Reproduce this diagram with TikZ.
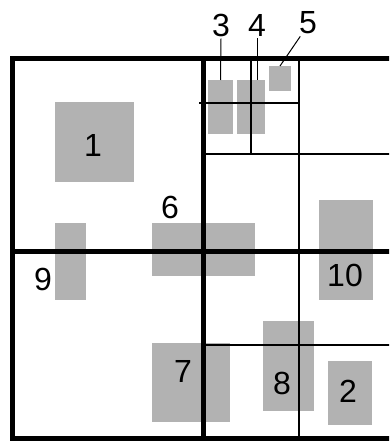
\documentclass[tikz,border=0pt]{standalone}
\usepackage{fontspec}
\setmainfont{Liberation Sans}
\usetikzlibrary{calc,positioning}
\tikzset{
  blk/.style={fill=black!30, inner sep=0pt, outer sep=0pt},
  thickline/.style={line width=5pt},
  thinline/.style={line width=2pt},
  lead/.style={line width=1pt},
  num/.style={font=\fontsize{32}{32}\selectfont, inner sep=2pt}
}
\begin{document}
\begin{tikzpicture}[x=1pt,y=-1pt]
  \useasboundingbox (0,0) rectangle (389,441);
  \clip (0,0) rectangle (389,441);
  % grey blocks
  \foreach \n/\cx/\cy/\w/\h in {1/94.5/142/79/80, 3/220.5/107/25/54, 4/251/107/28/54,
      5/280/78.5/22/25, 6/203.5/249.5/103/53, 9/70.5/261.5/31/77, 10/346/250/54/100,
      7/191/382.5/78/79, 8/288.5/366/51/90, 2/350/393/44/64}{
    \node[blk, minimum width=\w pt, minimum height=\h pt] (r\n) at (\cx,\cy) {};
  }
  % quadtree cells
  \draw[thickline] (12,59) rectangle (393,438);
  \draw[thickline] (12,251) -- (393,251);
  \draw[thickline] (203,59) -- (203,438);
  \draw[thinline] (299,59) -- (299,438);
  \draw[thinline] (203,154) -- (393,154);
  \draw[thinline] (203,345) -- (393,345);
  \draw[thinline] (251,59) -- (251,154);
  \draw[thinline] (199,103) -- (299,103);
  % labels
  \node[num] (l1) at (93,145) {1};
  \node[num] (l2) at (348,391) {2};
  \node[num] (l3) at (221,25) {3};
  \node[num] (l4) at (257,25) {4};
  \node[num] (l5) at (308,23) {5};
  \node[num] (l6) at (170,207) {6};
  \node[num] (l7) at (183,371) {7};
  \node[num] (l8) at (282,383) {8};
  \node[num] (l9) at (43,279) {9};
  \node[num] (l10) at (345,275) {10};
  \draw[lead] (l3.south) -- (r3.north);
  \draw[lead] (l4.south) -- (l4.south |- r4.north);
  \draw[lead] (l5.240) -- (r5.north);
\end{tikzpicture}
\end{document}
